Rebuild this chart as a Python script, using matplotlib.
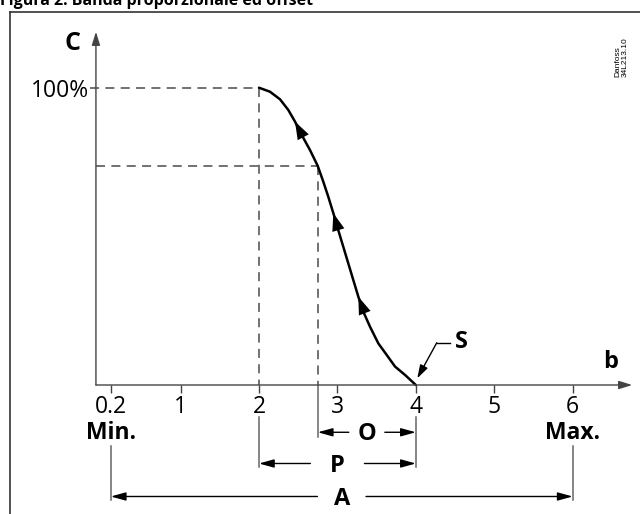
import numpy as np
import matplotlib.pyplot as plt
from matplotlib.lines import Line2D

# curve: b (x) and C in % (y)
b_curve = [2.000, 2.140, 2.268, 2.374, 2.459, 2.545, 2.651, 2.749, 2.820, 2.884, 2.948,
           3.011, 3.075, 3.139, 3.203, 3.267, 3.330, 3.416, 3.522, 3.629, 3.735, 3.862, 4.000]
c_curve = [100.0, 98.65, 96.1, 92.5, 88.6, 84.1, 79.0, 73.7, 68.4, 63.3, 57.8,
           52.1, 46.5, 40.9, 35.3, 29.7, 24.7, 19.6, 14.0, 10.1, 6.2, 3.4, 0.0]
arrow_idx = [4, 10, 15]

tick_pos = [0.11, 1, 2, 3, 4, 5, 6]
tick_labels = ['0.2', '1', '2', '3', '4', '5', '6']

b_p_start = 2.0     # start of P band (C = 100%)
b_o_start = 2.75    # start of offset band
c_o_start = 73.7
b_setpoint = 4.0    # S
b_min, b_max = 0.11, 6.0

FONT = 'Open Sans'
GREY = '#666666'

fig = plt.figure(figsize=(6.4, 5.14), dpi=100)
ax = fig.add_axes([0, 0, 1, 1])
ax.set_xlim(-1.3036, 6.8597)
ax.set_ylim(-43.39, 129.5)
ax.axis('off')

# frame and title (title is cut at the top edge, as in the original)
fig.add_artist(Line2D([10/640, 10/640], [0, 1 - 12/514], color='#333333', lw=1.2))
fig.add_artist(Line2D([10/640, 1], [1 - 12/514, 1 - 12/514], color='#333333', lw=1.2))
fig.text(0.5/640, 1 - 5/514, 'Figura 2. Banda proporzionale ed offset', fontsize=11.5,
         fontweight='bold', family=FONT, va='baseline', ha='left')

# axes with arrows
x0 = -0.08
head = dict(arrowstyle='-|>,head_length=0.8,head_width=0.25', color='#444444', lw=1.0,
            mutation_scale=10, shrinkA=0, shrinkB=0)
ax.annotate('', xy=(x0, 118.8), xytext=(x0, 0), arrowprops=head)
ax.annotate('', xy=(6.76, 0), xytext=(x0, 0), arrowprops=head)
ax.vlines(tick_pos, -2.6, 0, color='#444444', lw=1.0)
for p, lab in zip(tick_pos, tick_labels):
    ax.text(p, -9.3, lab, ha='center', va='baseline', fontsize=16.5, family=FONT)

ax.text(-0.38, 112.7, 'C', ha='center', va='baseline', fontsize=18, fontweight='bold', family=FONT)
ax.text(6.49, 5.7, 'b', ha='center', va='baseline', fontsize=17, fontweight='bold', family=FONT)
ax.text(-0.168, 96.9, '100%', ha='right', va='baseline', fontsize=16.5, family=FONT)

# dashed guides
dash = dict(color=GREY, lw=1.3, ls=(0, (5, 3.5)))
ax.plot([-0.15, b_p_start], [100, 100], **dash)
ax.plot([b_p_start, b_p_start], [100, 0], **dash)
ax.plot([x0, b_o_start], [c_o_start, c_o_start], **dash)
ax.plot([b_o_start, b_o_start], [c_o_start, 0], **dash)

# curve with direction arrows
ax.plot(b_curve, c_curve, color='black', lw=1.8, solid_capstyle='round')
for i in arrow_idx:
    ax.annotate('', xy=(b_curve[i], c_curve[i]), xytext=(b_curve[i + 2], c_curve[i + 2]),
                arrowprops=dict(arrowstyle='-|>,head_length=0.85,head_width=0.3', color='black',
                                lw=0, mutation_scale=15, shrinkA=0, shrinkB=0))

# S marker
ax.plot([4.436, 4.267], [14.2, 14.2], color='black', lw=1.0)
ax.annotate('', xy=(4.019, 2.25), xytext=(4.267, 14.2),
            arrowprops=dict(arrowstyle='-|>,head_length=0.8,head_width=0.25', color='black',
                            lw=1.0, mutation_scale=10, shrinkA=0, shrinkB=0))
ax.text(4.583, 12.3, 'S', ha='center', va='baseline', fontsize=17, fontweight='bold', family=FONT)

# extension lines below the axis
ext = dict(color=GREY, lw=1.1)
ax.plot([b_o_start, b_o_start], [0, -17.5], **ext)
ax.plot([b_p_start, b_p_start], [-10.8, -27.6], **ext)
ax.plot([b_setpoint, b_setpoint], [-10.8, -27.6], **ext)
ax.plot([b_min, b_min], [-20.5, -38.7], **ext)
ax.plot([b_max, b_max], [-20.5, -38.7], **ext)

ax.text(b_min, -18.3, 'Min.', ha='center', va='baseline', fontsize=16.5, fontweight='bold', family=FONT)
ax.text(b_max, -18.3, 'Max.', ha='center', va='baseline', fontsize=16.5, fontweight='bold', family=FONT)


def dim(left, right, y, label, gap):
    mid = (left + right) / 2
    for end, start in ((left, mid - gap), (right, mid + gap)):
        ax.annotate('', xy=(end, y), xytext=(start, y),
                    arrowprops=dict(arrowstyle='-|>,head_length=0.9,head_width=0.25', color='black',
                                    lw=1.0, mutation_scale=10, shrinkA=0, shrinkB=0))
    ax.text(mid, y - 2.7, label, ha='center', va='baseline', fontsize=17, fontweight='bold', family=FONT)


dim(b_o_start, b_setpoint, -15.9, 'O', 0.23)
dim(b_p_start, b_setpoint, -26.4, 'P', 0.345)
dim(b_min, b_max, -37.5, 'A', 0.31)

# drawing reference
ax.text(6.62, 103.6, 'Danfoss\n34L213.10', rotation=90, rotation_mode='anchor',
        ha='left', va='center', fontsize=6, family='Liberation Sans', linespacing=1.0)

fig.savefig('out.png', dpi=100)
